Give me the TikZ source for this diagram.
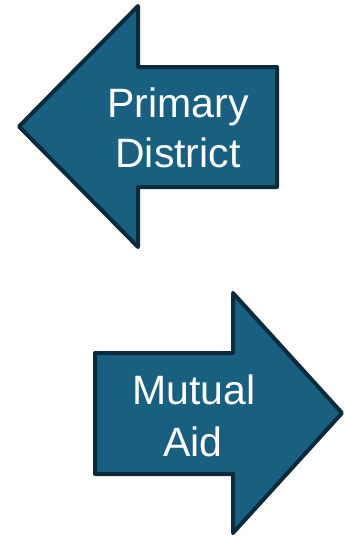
\documentclass[tikz,border=0pt]{standalone}
\usepackage{fontspec}
\setmainfont{Liberation Sans}
\definecolor{arrowfill}{HTML}{185F80}
\definecolor{arrowline}{HTML}{0B2A3A}
\begin{document}
\begin{tikzpicture}[x=1pt,y=-1pt,
  bigarrow/.style={fill=arrowfill,draw=arrowline,line width=4pt,line join=round},
  label/.style={text=white,font=\fontsize{41}{49}\selectfont,anchor=base,inner sep=0pt}]
\useasboundingbox (0,0) rectangle (345,536);
% left arrow
\draw[bigarrow] (19,126.5) -- (138,6) -- (138,67) -- (277,67) -- (277,187) -- (138,187) -- (138,247) -- cycle;
% right arrow
\draw[bigarrow] (95,353) -- (233,353) -- (233,293) -- (342,413) -- (233,533) -- (233,474) -- (95,474) -- cycle;
\node[label] (pd1) at (178,117) {Primary};
\node[label] (pd2) at (178,167) {District};
\node[label] (ma1) at (194,404) {Mutual};
\node[label] (ma2) at (193,456) {Aid};
\end{tikzpicture}
\end{document}
